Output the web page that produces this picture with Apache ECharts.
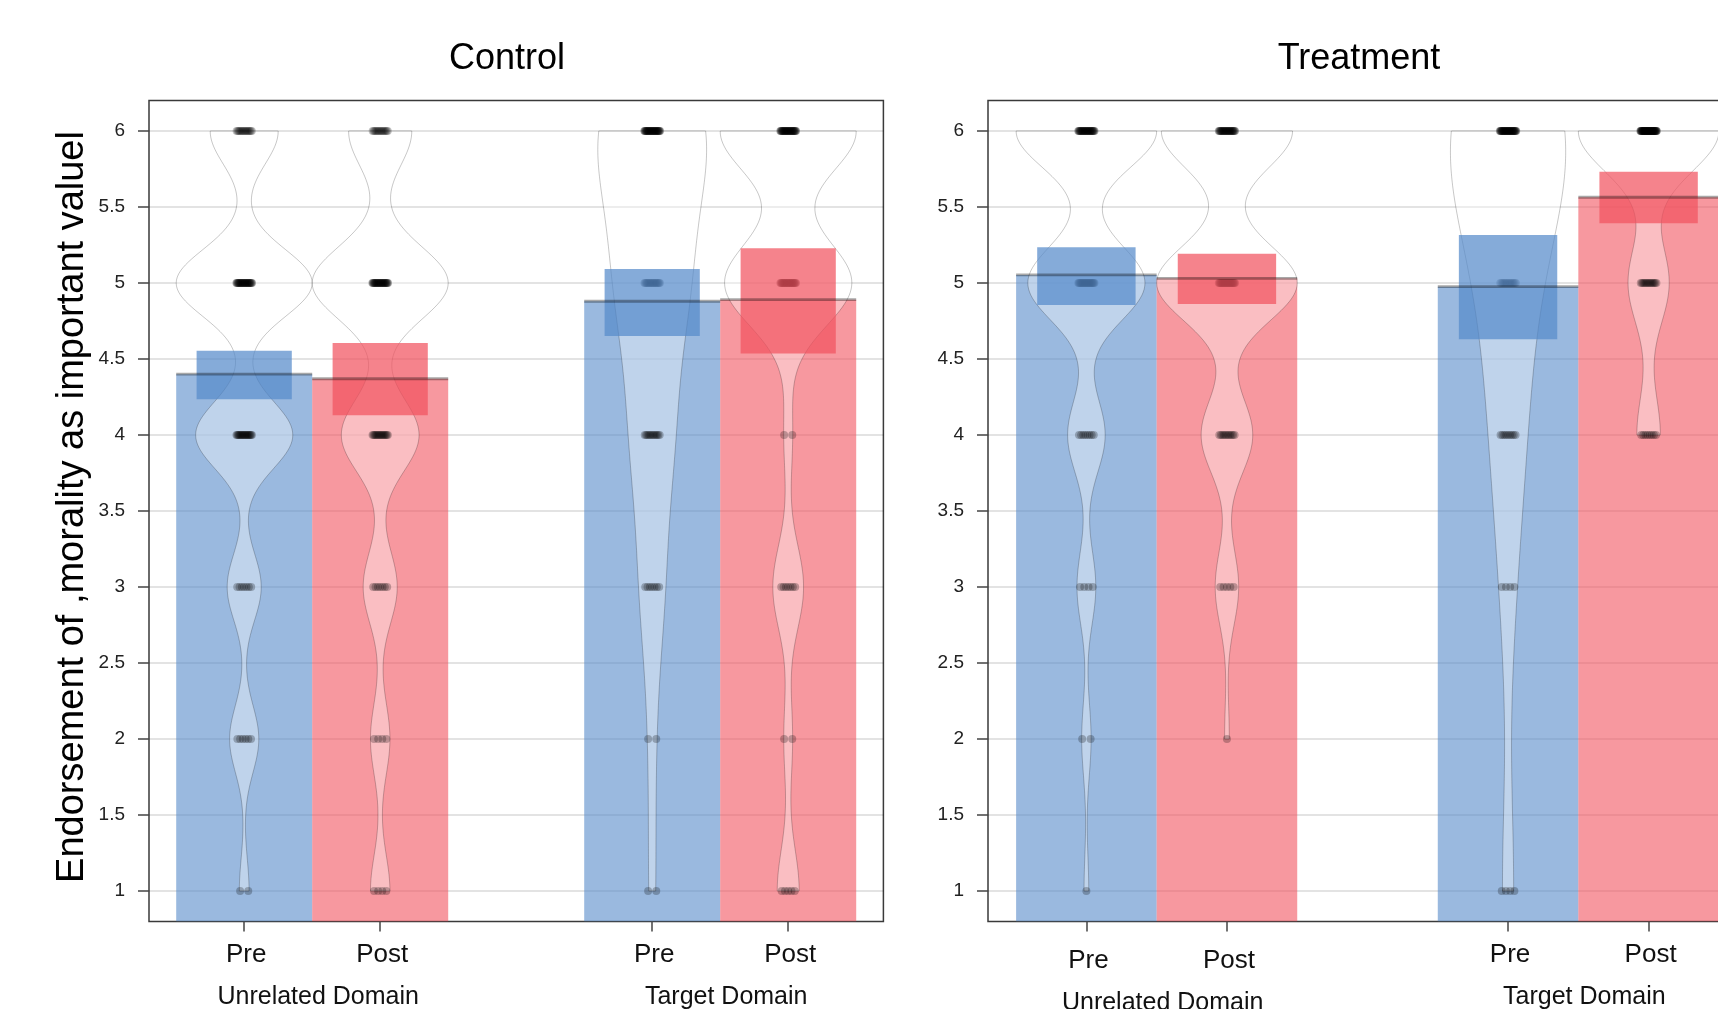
<!DOCTYPE html>
<html>
<head>
<meta charset="utf-8">
<script src="https://cdn.jsdelivr.net/npm/echarts@6/dist/echarts.min.js"></script>
<style>
html,body{margin:0;padding:0;background:#ffffff;}
#chart{width:1718px;height:1009px;}
</style>
</head>
<body>
<div id="chart"></div>
<script>
// ---------------- DATA ----------------
const panels = ['Control', 'Treatment'];
const domains = ['Unrelated Domain', 'Target Domain'];
const times = ['Pre', 'Post'];
const beanPositions = [1, 2, 4, 5];          // Unrelated Pre, Unrelated Post, Target Pre, Target Post
const groupPositions = [1.5, 4.5];
const levels = [1, 2, 3, 4, 5, 6];
const yTicks = [1, 1.5, 2, 2.5, 3, 3.5, 4, 4.5, 5, 5.5, 6];
const yTickLabels = ['1', '1.5', '2', '2.5', '3', '3.5', '4', '4.5', '5', '5.5', '6'];

// means (bar heights) and inference bands, order: Unrelated Pre, Unrelated Post, Target Pre, Target Post
const controlMeans = [4.40, 4.37, 4.88, 4.89];
const controlInfLow = [4.235, 4.13, 4.652, 4.537];
const controlInfHigh = [4.555, 4.605, 5.092, 5.228];
const treatmentMeans = [5.053, 5.031, 4.976, 5.564];
const treatmentInfLow = [4.855, 4.862, 4.63, 5.393];
const treatmentInfHigh = [5.235, 5.193, 5.316, 5.732];

// estimated number of responses at levels 1..6
const controlUnrelatedPre = [2, 6, 7, 20, 28, 14];
const controlUnrelatedPost = [4, 4, 7, 16, 28, 13];
const controlTargetPre = [2, 2, 7, 12, 20, 32];
const controlTargetPost = [5, 2, 7, 2, 29, 31];
const treatmentUnrelatedPre = [1, 2, 4, 8, 25, 30];
const treatmentUnrelatedPost = [0, 1, 5, 11, 30, 28];
const treatmentTargetPre = [4, 0, 4, 9, 13, 37];
const treatmentTargetPost = [0, 0, 0, 8, 14, 48];

// density bandwidths of the beans
const controlBandwidths = [0.22, 0.24, 0.5, 0.28];
const treatmentBandwidths = [0.245, 0.25, 0.65, 0.27];

// ---------------- STYLE ----------------
const X_MIN = 0.3, X_MAX = 5.7, Y_MIN = 0.8, Y_MAX = 6.2;
const beanPeak = [[0.5, 0.5, 0.4, 0.5], [0.5, 0.5, 0.41, 0.5]];
const baseColors = [[86, 138, 202], [241, 83, 95]]; // Pre, Post
const rgba = (c, a) => `rgba(${c[0]},${c[1]},${c[2]},${a})`;
const barFill = baseColors.map(c => rgba(c, 0.6));
const infFill = baseColors.map(c => rgba(c, 0.72));
const FONT = '"Liberation Sans", Arial, Helvetica, sans-serif';
const grids = [
  { left: 149, top: 100.6, width: 734.4, height: 820.8 },
  { left: 988, top: 100.6, width: 759, height: 820.8 }
];
// small per-panel label nudges [unrelated, target] (vertical, px)
const labelDrop = [[0, 0], [6, 0]];

const panelMeans = [controlMeans, treatmentMeans];
const panelInfLow = [controlInfLow, treatmentInfLow];
const panelInfHigh = [controlInfHigh, treatmentInfHigh];
const panelCounts = [
  [controlUnrelatedPre, controlUnrelatedPost, controlTargetPre, controlTargetPost],
  [treatmentUnrelatedPre, treatmentUnrelatedPost, treatmentTargetPre, treatmentTargetPost]
];
const panelBw = [controlBandwidths, treatmentBandwidths];

// kernel density profile of a bean, truncated to the data range
function beanProfile(counts, bw, peak) {
  const present = levels.filter((l, i) => counts[i] > 0);
  const lo = Math.min(...present), hi = Math.max(...present);
  const steps = Math.max(1, Math.round((hi - lo) / 0.02));
  const pts = [];
  let max = 0;
  for (let s = 0; s <= steps; s++) {
    const y = lo + (hi - lo) * s / steps;
    let d = 0;
    levels.forEach((l, i) => { d += counts[i] * Math.exp(-((y - l) * (y - l)) / (2 * bw * bw)); });
    pts.push([y, d]);
    if (d > max) max = d;
  }
  return pts.map(p => [p[0], p[1] / max * peak]);
}

const profiles = [];
panelCounts.forEach((arr, p) => {
  profiles[p] = arr.map((c, j) => beanProfile(c, panelBw[p][j], beanPeak[p][j]));
});

function labelForBean(v) {
  const i = beanPositions.findIndex(b => Math.abs(b - v) < 1e-6);
  return i < 0 ? '' : '{' + (i < 2 ? 'u' : 't') + '|' + times[i % 2] + '}';
}
function labelForGroup(v) {
  const i = groupPositions.findIndex(b => Math.abs(b - v) < 1e-6);
  return i < 0 ? '' : '{' + (i === 0 ? 'u' : 't') + '|' + domains[i] + '}';
}
function labelForY(v) {
  const i = yTicks.findIndex(b => Math.abs(b - v) < 1e-6);
  return i < 0 ? '' : yTickLabels[i];
}

const xAxes = [], yAxes = [], series = [];
panels.forEach((name, p) => {
  const xa = 2 * p;
  const mkRich = (size, shiftX) => ({
    u: { fontSize: size, fontFamily: FONT, color: '#111', padding: [labelDrop[p][0], 0, 0, shiftX] },
    t: { fontSize: size, fontFamily: FONT, color: '#111', padding: [labelDrop[p][1], 0, 0, shiftX] }
  });
  xAxes.push({
    type: 'value', gridIndex: p, min: X_MIN, max: X_MAX, position: 'bottom',
    axisLine: { show: false }, splitLine: { show: false },
    axisTick: { show: true, customValues: beanPositions, length: 10, lineStyle: { color: '#444', width: 1.5 } },
    axisLabel: { show: true, customValues: beanPositions, formatter: labelForBean, fontSize: 26, color: '#111', margin: 20, fontFamily: FONT, rich: mkRich(26, 4) }
  });
  xAxes.push({
    type: 'value', gridIndex: p, min: X_MIN, max: X_MAX, position: 'bottom', offset: 0,
    axisLine: { show: false }, splitLine: { show: false }, axisTick: { show: false },
    axisLabel: { show: true, customValues: groupPositions, formatter: labelForGroup, fontSize: 25, color: '#111', margin: 63, fontFamily: FONT, rich: mkRich(25, 12) }
  });
  yAxes.push({
    type: 'value', gridIndex: p, min: Y_MIN, max: Y_MAX, position: 'left',
    axisLine: { show: false }, splitLine: { show: false },
    axisTick: { show: true, customValues: yTicks, length: 11, lineStyle: { color: '#444', width: 1.5 } },
    axisLabel: { show: true, customValues: yTicks, formatter: labelForY, fontSize: 19, color: '#222', margin: 24, fontFamily: FONT }
  });

  const beanData = beanPositions.map((x, j) => [x, panelMeans[p][j], j]);

  // horizontal reference lines
  series.push({
    type: 'custom', xAxisIndex: xa, yAxisIndex: p, z: 1, silent: true, clip: true,
    data: yTicks.map(v => [X_MIN, v]),
    renderItem: (params, api) => {
      const a = api.coord([X_MIN, api.value(1)]);
      const b = api.coord([X_MAX, api.value(1)]);
      return { type: 'line', shape: { x1: a[0], y1: a[1], x2: b[0], y2: b[1] },
        style: { stroke: 'rgba(0,0,0,0.15)', lineWidth: 1.5 } };
    }
  });
  // bars
  series.push({
    type: 'custom', xAxisIndex: xa, yAxisIndex: p, z: 2, silent: true, clip: true,
    data: beanData,
    renderItem: (params, api) => {
      const x = api.value(0), m = api.value(1), j = api.value(2);
      const a = api.coord([x - 0.5, m]);
      const b = api.coord([x + 0.5, Y_MIN]);
      return { type: 'rect', shape: { x: a[0], y: a[1], width: b[0] - a[0], height: b[1] - a[1] },
        style: { fill: barFill[j % 2] } };
    }
  });
  // beans
  series.push({
    type: 'custom', xAxisIndex: xa, yAxisIndex: p, z: 3, silent: true, clip: true,
    data: beanData,
    renderItem: (params, api) => {
      const x = api.value(0), j = api.value(2);
      const prof = profiles[p][j];
      const left = prof.map(q => api.coord([x - q[1], q[0]]));
      const right = prof.slice().reverse().map(q => api.coord([x + q[1], q[0]]));
      return { type: 'polygon', shape: { points: left.concat(right) },
        style: { fill: 'rgba(255,255,255,0.37)', stroke: 'rgba(0,0,0,0.22)', lineWidth: 1 } };
    }
  });
  // raw points (evenly spread within a small horizontal band)
  const pts = [];
  const J = 0.06;
  panelCounts[p].forEach((counts, j) => {
    counts.forEach((n, k) => {
      for (let i = 0; i < n; i++) {
        const off = n === 1 ? 0 : J * ((2 * i + 1) / n - 1);
        pts.push([beanPositions[j] + off, levels[k]]);
      }
    });
  });
  series.push({
    type: 'scatter', xAxisIndex: xa, yAxisIndex: p, z: 4, silent: true,
    symbol: 'circle', symbolSize: 8, data: pts,
    itemStyle: { color: 'rgba(0,0,0,0.3)' }
  });
  // inference bands
  series.push({
    type: 'custom', xAxisIndex: xa, yAxisIndex: p, z: 5, silent: true, clip: true,
    data: beanPositions.map((x, j) => [x, panelInfHigh[p][j], j, panelInfLow[p][j]]),
    renderItem: (params, api) => {
      const x = api.value(0), hi = api.value(1), j = api.value(2), lo = api.value(3);
      const a = api.coord([x - 0.35, hi]);
      const b = api.coord([x + 0.35, lo]);
      return { type: 'rect', shape: { x: a[0], y: a[1], width: b[0] - a[0], height: b[1] - a[1] },
        style: { fill: infFill[j % 2] } };
    }
  });
  // average lines
  series.push({
    type: 'custom', xAxisIndex: xa, yAxisIndex: p, z: 6, silent: true, clip: true,
    data: beanData,
    renderItem: (params, api) => {
      const x = api.value(0), m = api.value(1);
      const a = api.coord([x - 0.5, m]);
      const b = api.coord([x + 0.5, m]);
      return { type: 'line', shape: { x1: a[0], y1: a[1], x2: b[0], y2: b[1] },
        style: { stroke: 'rgba(0,0,0,0.34)', lineWidth: 2.8 } };
    }
  });
});

const chart = echarts.init(document.getElementById('chart'), null, { renderer: 'canvas' });
chart.setOption({
  animation: false,
  backgroundColor: '#ffffff',
  grid: grids.map(g => Object.assign({ show: true, borderColor: '#3a3a3a', borderWidth: 1.5, backgroundColor: 'transparent', outerBoundsMode: 'none' }, g)),
  xAxis: xAxes,
  yAxis: yAxes,
  series: series,
  graphic: [
    { type: 'text', x: 507, y: 59, z: 10, style: { text: panels[0], font: '36px ' + FONT, fill: '#000', align: 'center', verticalAlign: 'middle' } },
    { type: 'text', x: 1359, y: 59, z: 10, style: { text: panels[1], font: '36px ' + FONT, fill: '#000', align: 'center', verticalAlign: 'middle' } },
    { type: 'text', x: 73, y: 507, rotation: Math.PI / 2, z: 10,
      style: { text: 'Endorsement of ,morality as important valuel', font: '38px ' + FONT, fill: '#000', align: 'center', verticalAlign: 'middle' } }
  ]
});
</script>
</body>
</html>
